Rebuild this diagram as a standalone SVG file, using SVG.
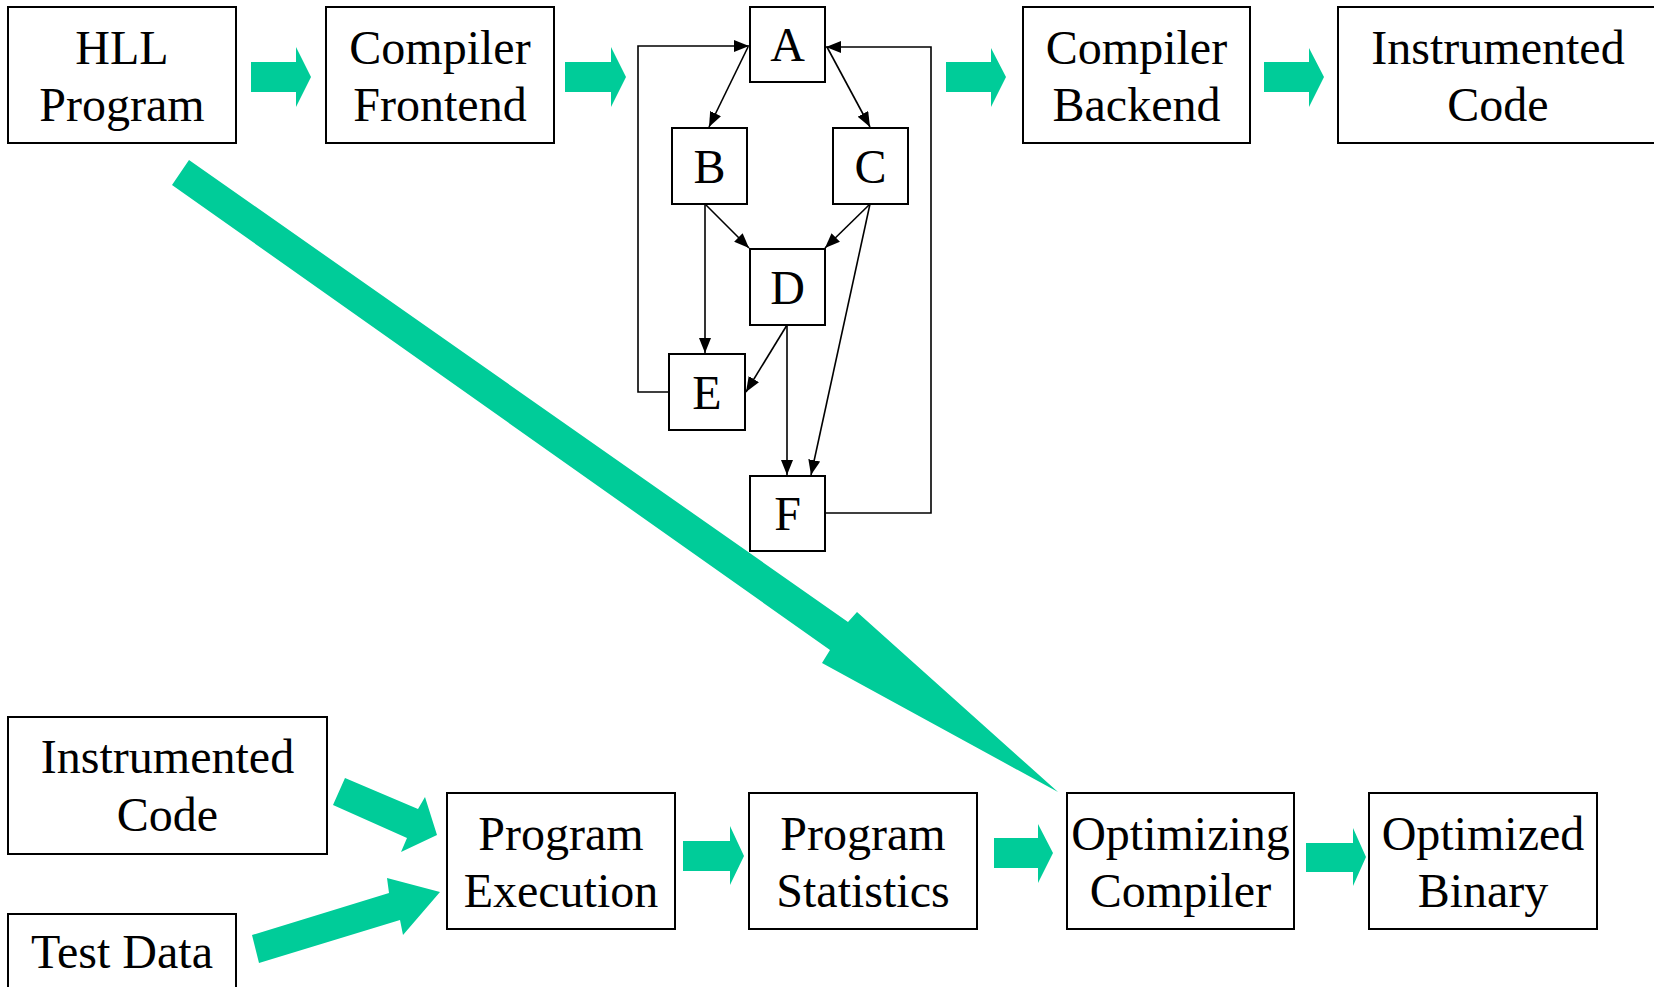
<svg xmlns="http://www.w3.org/2000/svg" width="1654" height="987" viewBox="0 0 1654 987">
<style>
.box{fill:#fff;stroke:#000;stroke-width:2}
.t{font-family:"Liberation Serif","Times New Roman",serif;font-size:48px;fill:#000;text-anchor:middle}
.g{fill:#00CC99;stroke:none}
.e{fill:none;stroke:#000;stroke-width:1.6}
</style>
<defs>
<marker id="ah" markerUnits="userSpaceOnUse" markerWidth="16" markerHeight="12" refX="15" refY="6" orient="auto">
<path d="M0,0 L15,6 L0,12 z" fill="#000"/>
</marker>
</defs>
<rect width="1654" height="987" fill="#fff"/>

<g id="connectors">
<g id="green-arrows">
<polygon class="g" points="251,62 296,62 296,47 311,77 296,107 296,92 251,92"/>
<polygon class="g" points="565,62 611,62 611,47 626,77 611,107 611,92 565,92"/>
<polygon class="g" points="946,62 991,62 991,48 1006,77 991,107 991,92 946,92"/>
<polygon class="g" points="1264,62 1309,62 1309,48 1324,77 1309,107 1309,92 1264,92"/>
<polygon class="g" points="683,841 730,841 730,826 744,856 730,885 730,871 683,871"/>
<polygon class="g" points="994,838 1038,838 1038,824 1053,853 1038,883 1038,868 994,868"/>
<polygon class="g" points="1306,843 1353,843 1353,828 1366,857 1353,886 1353,872 1306,872"/>
<polygon class="g" points="189,160 848,622 857,612 1058,792 822,663 830,650 172,185"/>
<polygon class="g" points="345,778 418,809 425,797 437,835 401,852 407,838 333,805"/>
<polygon class="g" points="252,935 389,893 387,878 440,892 403,935 400,920 259,963"/>
</g>
<g id="cfg-edges">
<line class="e" x1="748" y1="47" x2="709" y2="127" marker-end="url(#ah)"/>
<line class="e" x1="827" y1="47" x2="870" y2="127" marker-end="url(#ah)"/>
<line class="e" x1="705" y1="204" x2="749" y2="248" marker-end="url(#ah)"/>
<line class="e" x1="870" y1="204" x2="825" y2="248" marker-end="url(#ah)"/>
<line class="e" x1="705" y1="204" x2="705" y2="353" marker-end="url(#ah)"/>
<line class="e" x1="787" y1="325" x2="746" y2="392" marker-end="url(#ah)"/>
<line class="e" x1="787" y1="325" x2="787" y2="475" marker-end="url(#ah)"/>
<line class="e" x1="870" y1="204" x2="811" y2="475" marker-end="url(#ah)"/>
<polyline class="e" points="669,392 638,392 638,46 749,46" marker-end="url(#ah)"/>
<polyline class="e" points="825,513 931,513 931,47 826,47" marker-end="url(#ah)"/>
</g>
</g>

<g id="hll"><rect class="box" x="8" y="7" width="228" height="136"/>
<text class="t" x="122" y="64">HLL</text><text class="t" x="122" y="121">Program</text></g>
<g id="frontend"><rect class="box" x="326" y="7" width="228" height="136"/>
<text class="t" x="440" y="64">Compiler</text><text class="t" x="440" y="121">Frontend</text></g>
<g id="backend"><rect class="box" x="1023" y="7" width="227" height="136"/>
<text class="t" x="1136.5" y="64">Compiler</text><text class="t" x="1136.5" y="121">Backend</text></g>
<g id="instr-top"><rect class="box" x="1338" y="7" width="322" height="136"/>
<text class="t" x="1498" y="64">Instrumented</text><text class="t" x="1498" y="121">Code</text></g>

<g id="nA"><rect class="box" x="750" y="7" width="75" height="75"/><text class="t" x="787.5" y="61">A</text></g>
<g id="nB"><rect class="box" x="672" y="128" width="75" height="76"/><text class="t" x="709.5" y="183">B</text></g>
<g id="nC"><rect class="box" x="833" y="128" width="75" height="76"/><text class="t" x="870.5" y="183">C</text></g>
<g id="nD"><rect class="box" x="750" y="249" width="75" height="76"/><text class="t" x="787.5" y="304">D</text></g>
<g id="nE"><rect class="box" x="669" y="354" width="76" height="76"/><text class="t" x="707" y="409">E</text></g>
<g id="nF"><rect class="box" x="750" y="476" width="75" height="75"/><text class="t" x="787.5" y="530">F</text></g>

<g id="instr-bottom"><rect class="box" x="8" y="717" width="319" height="137"/>
<text class="t" x="167.5" y="773">Instrumented</text><text class="t" x="167.5" y="831">Code</text></g>
<g id="testdata"><rect class="box" x="8" y="914" width="228" height="136"/>
<text class="t" x="122" y="968">Test Data</text></g>
<g id="exec"><rect class="box" x="447" y="793" width="228" height="136"/>
<text class="t" x="561" y="850">Program</text><text class="t" x="561" y="907">Execution</text></g>
<g id="stats"><rect class="box" x="749" y="793" width="228" height="136"/>
<text class="t" x="863" y="850">Program</text><text class="t" x="863" y="907">Statistics</text></g>
<g id="optcomp"><rect class="box" x="1067" y="793" width="227" height="136"/>
<text class="t" x="1180.5" y="850">Optimizing</text><text class="t" x="1180.5" y="907">Compiler</text></g>
<g id="optbin"><rect class="box" x="1369" y="793" width="228" height="136"/>
<text class="t" x="1483" y="850">Optimized</text><text class="t" x="1483" y="907">Binary</text></g>
</svg>
